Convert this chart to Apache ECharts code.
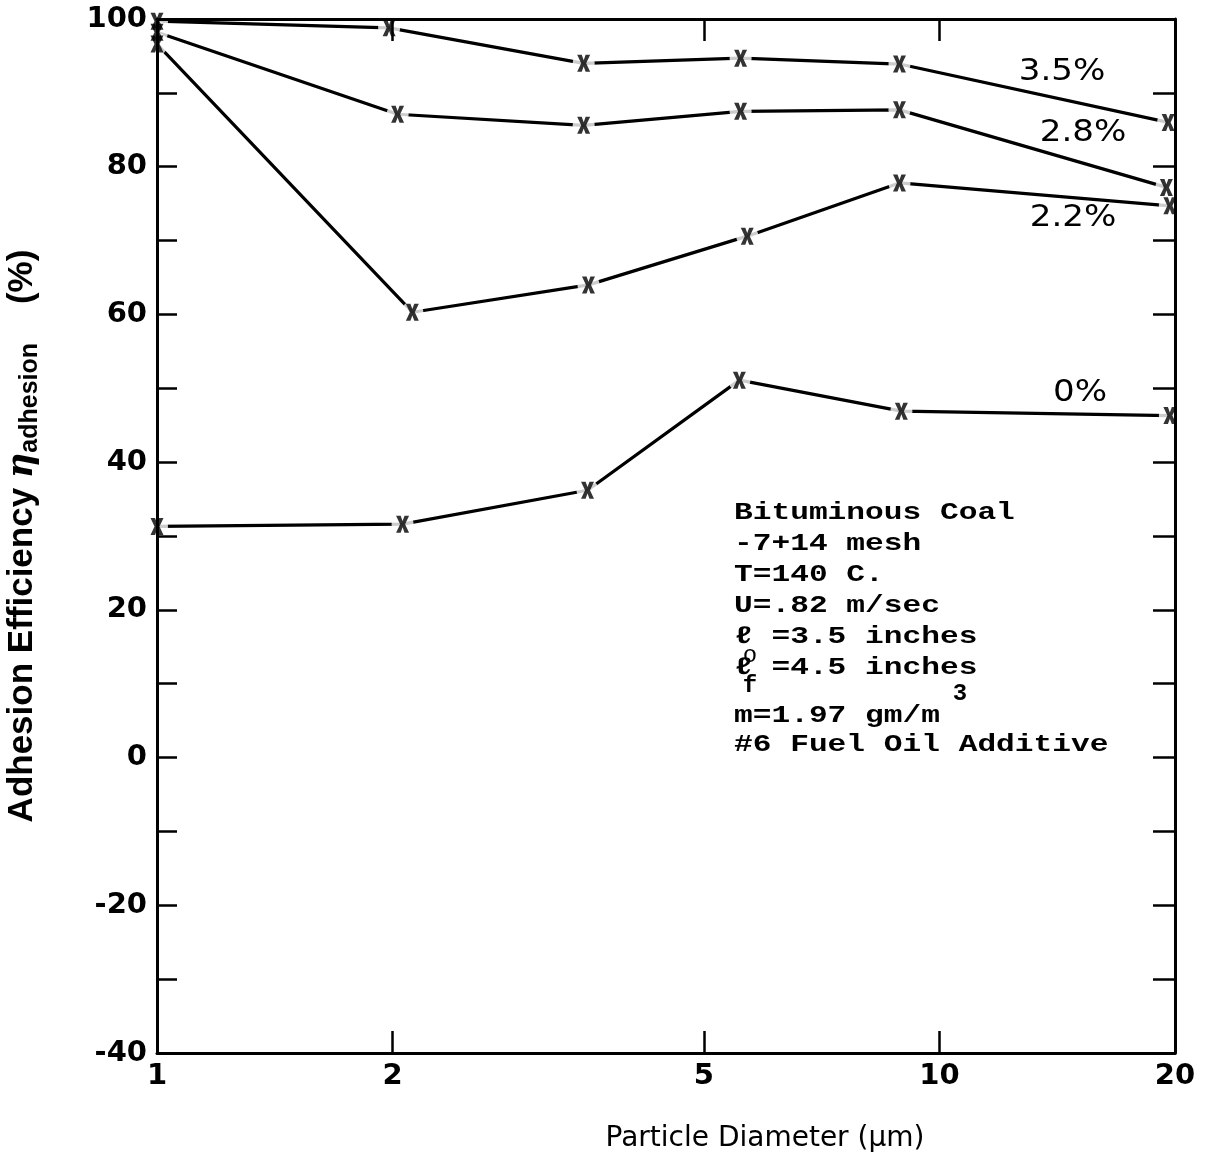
<!DOCTYPE html>
<html>
<head>
<meta charset="utf-8">
<script src="https://cdn.jsdelivr.net/npm/echarts@6/dist/echarts.min.js"></script>
<style>
  html, body { margin: 0; padding: 0; background: #fff; }
  #chart { width: 1221px; height: 1154px; }
</style>
</head>
<body>
<div id="chart"></div>
<script>
// Particle diameters (µm) and adhesion efficiencies (%) for each additive level
const diam35 = [1, 1.98, 3.51, 5.57, 8.89, 19.6];
const eff35  = [99.7, 98.8, 94.0, 94.7, 93.9, 86.0];
const diam28 = [1, 2.03, 3.51, 5.57, 8.89, 19.5];
const eff28  = [98.2, 87.1, 85.6, 87.5, 87.7, 77.2];
const diam22 = [1, 2.12, 3.56, 5.68, 8.89, 19.7];
const eff22  = [96.6, 60.3, 64.0, 70.6, 77.8, 74.7];
const diam0  = [1, 2.06, 3.55, 5.55, 8.94, 19.7];
const eff0   = [31.3, 31.6, 36.2, 51.1, 46.9, 46.3];

const seriesNames = ['3.5%', '2.8%', '2.2%', '0%'];
const xTickValues = [2, 5, 10];
const xLabelValues = [1, 2, 5, 10, 20];

const conditions = [
  'Bituminous Coal',
  '-7+14 mesh',
  'T=140 C.',
  'U=.82 m/sec',
  'ℓ =3.5 inches',
  'ℓ =4.5 inches',
  'm=1.97 gm/m',
  '#6 Fuel Oil Additive'
];

const pairs = (xs, ys) => xs.map((x, i) => [x, ys[i]]);
const allSets = [
  pairs(diam35, eff35),
  pairs(diam28, eff28),
  pairs(diam22, eff22),
  pairs(diam0, eff0)
];

const INK = '#000';
const crossPath = 'path://M0,0 L4.2,0 L6,5 L7.8,0 L12,0 L8.3,8 L12,16 L7.8,16 L6,11 L4.2,16 L0,16 L3.7,8 Z';

const tickFont = { fontFamily: 'DejaVu Sans', fontSize: 29, fontWeight: 'bold', color: INK };

const series = [];
allSets.forEach((d, i) => {
  series.push({
    name: seriesNames[i],
    type: 'line',
    data: d,
    symbol: 'none',
    lineStyle: { color: INK, width: 3.2 },
    z: 2,
    silent: true
  });
});
// white halos open a small gap in the lines around each marker
allSets.forEach((d) => {
  series.push({
    type: 'scatter',
    data: d,
    symbol: 'circle',
    symbolSize: 22,
    itemStyle: { color: '#fff' },
    z: 3,
    silent: true
  });
});
allSets.forEach((d) => {
  series.push({
    type: 'scatter',
    data: d,
    symbol: crossPath,
    symbolSize: [13, 17],
    itemStyle: { color: INK },
    z: 4,
    silent: true
  });
});

// condition notes, drawn as text lines
const noteX = 734;
const noteYs = [513, 544, 575, 606, 637, 668, 716, 745];
const noteFont = 'bold 24px "Liberation Mono", monospace';
const graphics = conditions.map((t, i) => ({
  type: 'text',
  x: noteX,
  y: noteYs[i],
  scaleX: 1.3,
  style: {
    text: t,
    font: noteFont,
    fill: INK,
    textVerticalAlign: 'middle'
  }
}));
graphics.push(
  { type: 'text', x: 750, y: 656, style: { text: 'o', font: '24px "Liberation Mono", monospace', fill: INK, textAlign: 'center', textVerticalAlign: 'middle' } },
  { type: 'text', x: 750, y: 686, style: { text: 'f', font: 'bold 24px "Liberation Mono", monospace', fill: INK, textAlign: 'center', textVerticalAlign: 'middle' } },
  { type: 'text', x: 960, y: 694, style: { text: '3', font: 'bold 24px "Liberation Mono", monospace', fill: INK, textAlign: 'center', textVerticalAlign: 'middle' } }
);
// curve labels
const curveLabelPos = [[1062, 72], [1083, 133], [1073, 218], [1080, 393]];
seriesNames.forEach((n, i) => {
  graphics.push({
    type: 'text',
    x: curveLabelPos[i][0],
    y: curveLabelPos[i][1],
    scaleX: 1.1,
    style: {
      text: n,
      font: '31px "DejaVu Sans"',
      fill: INK,
      textAlign: 'center',
      textVerticalAlign: 'middle'
    }
  });
});

const axisCommon = {
  z: 10,
  axisLine: { show: true, onZero: false, lineStyle: { color: INK, width: 3 } },
  splitLine: { show: false }
};

const chart = echarts.init(document.getElementById('chart'), null, { renderer: 'canvas' });
chart.setOption({
  backgroundColor: '#fff',
  animation: false,
  grid: { left: 157, right: 46, top: 19, bottom: 101, containLabel: false, outerBoundsMode: 'none' },
  xAxis: [
    {
      ...axisCommon,
      type: 'log',
      logBase: 10,
      min: 1,
      max: 20,
      position: 'bottom',
      axisTick: { show: true, inside: true, length: 22, lineStyle: { color: INK, width: 2.5 }, customValues: xTickValues },
      axisLabel: { show: true, margin: 9, customValues: xLabelValues, ...tickFont },
      minorTick: { show: false },
      name: 'Particle Diameter (μm)',
      nameLocation: 'middle',
      nameGap: 72,
      nameTextStyle: { fontFamily: 'DejaVu Sans', fontSize: 28, color: INK, padding: [0, 0, 0, 198] }
    },
    {
      ...axisCommon,
      type: 'log',
      logBase: 10,
      min: 1,
      max: 20,
      position: 'top',
      axisTick: { show: true, inside: true, length: 22, lineStyle: { color: INK, width: 2.5 }, customValues: xTickValues },
      axisLabel: { show: false }
    }
  ],
  yAxis: [
    {
      ...axisCommon,
      type: 'value',
      min: -40,
      max: 100,
      interval: 10,
      position: 'left',
      axisTick: { show: true, inside: true, length: 20, lineStyle: { color: INK, width: 2.5 } },
      axisLabel: {
        show: true,
        margin: 10,
        ...tickFont,
        formatter: (v) => (v % 20 === 0 ? String(v) : '')
      },
      name: 'Adhesion Efficiency {eta|η}{sub|adhesion}    (%)',
      nameLocation: 'middle',
      nameGap: 114,
      nameRotate: 90,
      nameTextStyle: {
        fontFamily: '"Liberation Sans Narrow", "Liberation Sans", sans-serif',
        fontSize: 35,
        fontWeight: 'bold',
        color: INK,
        rich: {
          eta: { fontFamily: '"DejaVu Serif", serif', fontStyle: 'italic', fontSize: 35, color: INK },
          sub: { fontFamily: '"Liberation Sans Narrow", "Liberation Sans", sans-serif', fontWeight: 'bold', fontSize: 25, color: INK, padding: [16, 0, 0, 0] }
        }
      }
    },
    {
      ...axisCommon,
      type: 'value',
      min: -40,
      max: 100,
      interval: 10,
      position: 'right',
      axisTick: { show: true, inside: true, length: 22, lineStyle: { color: INK, width: 2.5 } },
      axisLabel: { show: false }
    }
  ],
  series: series,
  graphic: graphics
});
</script>
</body>
</html>
